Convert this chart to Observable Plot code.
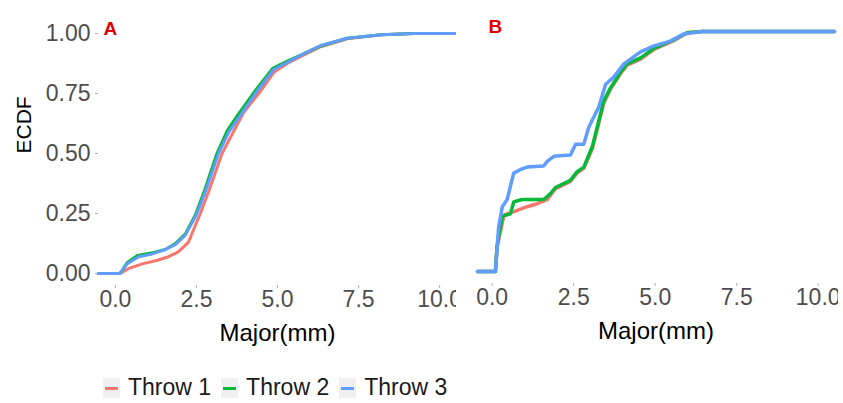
<!DOCTYPE html>
<html>
<head>
<meta charset="utf-8">
<script src="https://cdn.jsdelivr.net/npm/d3@7"></script>
<script src="https://cdn.jsdelivr.net/npm/@observablehq/plot@0.6"></script>
<style>
  html, body { margin: 0; padding: 0; background: #fff; }
  #wrap { position: relative; width: 843px; height: 403px; overflow: hidden; font-family: 'Liberation Sans', Arial, sans-serif; }
  #panelA { position: absolute; left: 0; top: 0; }
  #panelB { position: absolute; left: 460px; top: 0; }
  #legend { position: absolute; left: 103px; top: 374px; display: flex; align-items: center; font-size: 23px; color: #1a1a1a; }
  .key { width: 17px; height: 20px; background: #f0f0f0; position: relative; margin-right: 8px; }
  .key span { position: absolute; left: 2px; right: 2px; top: 9px; height: 3px; }
  .lab { margin-right: 10px; white-space: pre; }
</style>
</head>
<body>
<div id="wrap">
  <div id="panelA"></div>
  <div id="panelB"></div>
  <div id="legend"></div>
</div>
<script>
// ---- data ----
const throwNames = ["Throw 1", "Throw 2", "Throw 3"];
const throwColors = ["#F8766D", "#00BA38", "#619CFF"];
const panelLabels = ["A", "B"];
const yTicks = [0, 0.25, 0.5, 0.75, 1];
const xTicks = [0, 2.5, 5, 7.5, 10];
const xDomainA = [-0.52, 10.52];
const xDomainB = [-0.45, 10.5];
const yDomain = [-0.05, 1.05];

// Panel A: [Major (mm), ECDF]
const aThrow1 = [[-0.52,0],[0.15,0],[0.4,0.02],[0.83,0.04],[1.3,0.055],[1.64,0.07],[1.94,0.09],[2.25,0.13],[2.62,0.25],[2.9,0.35],[3.29,0.5],[3.6,0.58],[3.95,0.67],[4.42,0.75],[4.9,0.84],[5.3,0.875],[5.8,0.91],[6.33,0.945],[7.15,0.978],[8.2,0.995],[9.2,1],[10.52,1]];
const aThrow2 = [[-0.52,0],[0.12,0],[0.2,0.01],[0.36,0.045],[0.68,0.075],[1.1,0.085],[1.54,0.1],[1.85,0.125],[2.16,0.165],[2.47,0.245],[2.76,0.35],[3.13,0.5],[3.45,0.595],[3.8,0.665],[4.33,0.765],[4.85,0.855],[5.3,0.885],[5.8,0.915],[6.33,0.948],[7.15,0.98],[8.2,0.995],[9.2,1],[10.52,1]];
const aThrow3 = [[-0.52,0],[0.12,0],[0.2,0.01],[0.36,0.04],[0.72,0.07],[1.1,0.08],[1.54,0.1],[1.85,0.12],[2.16,0.16],[2.5,0.245],[2.8,0.35],[3.18,0.5],[3.5,0.59],[3.86,0.66],[4.37,0.76],[4.88,0.85],[5.3,0.88],[5.8,0.915],[6.33,0.95],[7.15,0.98],[8.2,0.995],[9.2,1],[10.52,1]];

// Panel B
const bThrow1 = [[-0.45,0],[0.1,0],[0.15,0.1],[0.36,0.235],[0.77,0.255],[1.07,0.27],[1.33,0.28],[1.69,0.3],[1.94,0.345],[2.4,0.375],[2.6,0.41],[2.81,0.43],[3.07,0.51],[3.22,0.59],[3.42,0.7],[3.63,0.76],[3.94,0.825],[4.14,0.86],[4.55,0.885],[4.96,0.925],[5.57,0.962],[5.98,0.995],[6.44,1],[10.5,1]];
const bThrow2 = [[-0.45,0],[0.1,0],[0.15,0.105],[0.31,0.23],[0.56,0.24],[0.66,0.29],[0.92,0.3],[1.58,0.3],[1.79,0.325],[1.94,0.35],[2.4,0.38],[2.6,0.415],[2.81,0.435],[3.07,0.52],[3.22,0.6],[3.42,0.71],[3.63,0.765],[3.94,0.83],[4.14,0.865],[4.55,0.89],[4.96,0.93],[5.57,0.965],[5.98,0.995],[6.44,1],[10.5,1]];
const bThrow3 = [[-0.45,0],[0.1,0],[0.15,0.1],[0.2,0.187],[0.31,0.27],[0.46,0.3],[0.66,0.41],[0.87,0.425],[1.07,0.435],[1.58,0.44],[1.7,0.46],[1.89,0.48],[2.4,0.485],[2.56,0.53],[2.81,0.53],[2.96,0.6],[3.12,0.645],[3.27,0.685],[3.48,0.78],[3.73,0.81],[4.04,0.865],[4.55,0.915],[4.96,0.94],[5.47,0.96],[5.88,0.99],[6.44,1],[10.5,1]];

// ---- build tables ----
function table(series) {
  return series.flatMap((pts, i) => pts.map(([x, y]) => ({x, y, throw: throwNames[i]})));
}
const dataA = table([aThrow1, aThrow2, aThrow3]);
const dataB = table([bThrow1, bThrow2, bThrow3]);

const font = "'Liberation Sans', Arial, sans-serif";
const tickFill = "#4d4d4d";
const tickStroke = "#b0b0b0";

function panel({data, domain, width, marginLeft, marginRight, marginTop, marginBottom, showY, label, labelDx, strokeWidth}) {
  const marks = [];
  if (showY) {
    marks.push(Plot.axisY({ticks: yTicks, tickFormat: d3.format(".2f"), tickSize: 3, tickPadding: 5, fontSize: 23, fill: tickFill, stroke: tickStroke, label: null}));
    marks.push(Plot.text(["ECDF"], {frameAnchor: "left", rotate: -90, dx: -74, fontSize: 21, fill: "black"}));
  }
  marks.push(Plot.axisX({ticks: xTicks, tickFormat: d3.format(".1f"), tickSize: 3, tickPadding: 2, fontSize: 23, fill: tickFill, stroke: tickStroke, label: null}));
  marks.push(Plot.line(data, {x: "x", y: "y", z: "throw", stroke: "throw", strokeWidth, curve: "linear"}));
  marks.push(Plot.text(["Major(mm)"], {frameAnchor: "bottom", dy: 55, fontSize: 24, fill: "black"}));
  marks.push(Plot.text([label], {frameAnchor: "top-left", dx: labelDx, dy: 7, textAnchor: "start", lineAnchor: "middle", fontSize: 19, fontWeight: "bold", fill: "#e00000"}));
  return Plot.plot({
    width, height: 360, marginLeft, marginRight, marginTop, marginBottom,
    x: {domain, label: null},
    y: {domain: yDomain, label: null, axis: showY ? undefined : null},
    color: {domain: throwNames, range: throwColors},
    style: {fontFamily: font, background: "transparent", overflow: "hidden"},
    marks
  });
}

document.getElementById("panelA").append(panel({
  data: dataA, domain: xDomainA, width: 456, marginLeft: 98, marginRight: 0,
  marginTop: 21, marginBottom: 75, showY: true, label: panelLabels[0], labelDx: 5, strokeWidth: 3
}));
document.getElementById("panelB").append(panel({
  data: dataB, domain: xDomainB, width: 378, marginLeft: 17, marginRight: 4,
  marginTop: 19, marginBottom: 77, showY: false, label: panelLabels[1], labelDx: 11, strokeWidth: 3.5
}));

// ---- legend ----
const legend = document.getElementById("legend");
throwNames.forEach((name, i) => {
  const key = document.createElement("div");
  key.className = "key";
  const bar = document.createElement("span");
  bar.style.background = throwColors[i];
  key.append(bar);
  const lab = document.createElement("div");
  lab.className = "lab";
  lab.textContent = name;
  legend.append(key, lab);
});
</script>
</body>
</html>
